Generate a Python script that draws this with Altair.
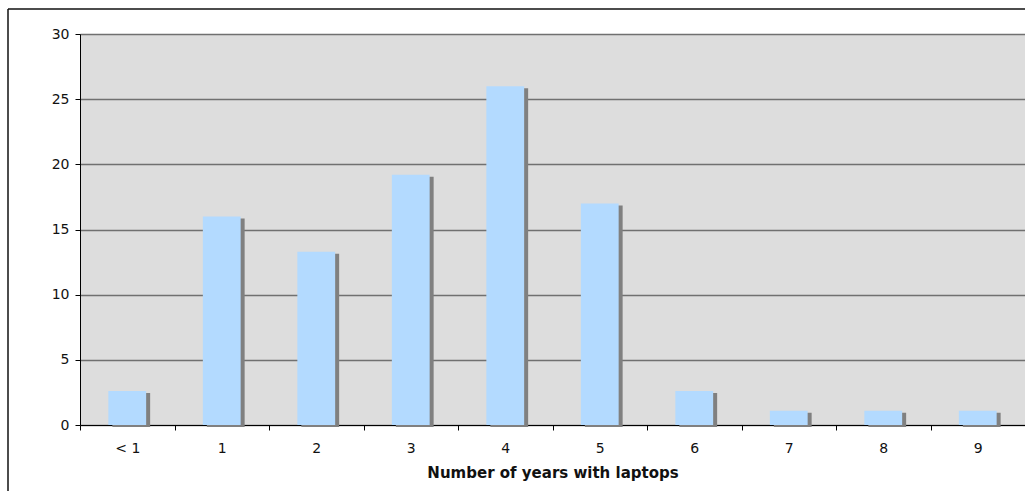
import altair as alt
import pandas as pd

# Share of respondents by number of years they have used laptops
categories = ["< 1", "1", "2", "3", "4", "5", "6", "7", "8", "9"]
values = [2.6, 16, 13.3, 19.2, 26, 17, 2.6, 1.1, 1.1, 1.1]
y_ticks = [0, 5, 10, 15, 20, 25, 30]

df = pd.DataFrame({"years": categories, "pct": values})
FONT = "DejaVu Sans"

x_enc = alt.X(
    "years:N",
    sort=categories,
    scale=alt.Scale(paddingInner=0, paddingOuter=0),
    axis=alt.Axis(
        title="Number of years with laptops",
        labelAngle=0,
        tickBand="extent",
        grid=False,
        domainColor="#000000",
        tickColor="#000000",
        tickSize=5,
        labelPadding=11,
        titlePadding=10,
    ),
)
y_enc = alt.Y(
    "pct:Q",
    scale=alt.Scale(domain=[0, 30], nice=False),
    axis=alt.Axis(
        title=None,
        values=y_ticks,
        grid=True,
        gridColor="#707070",
        gridWidth=1.5,
        domainColor="#000000",
        tickColor="#000000",
        tickSize=5,
        labelPadding=6,
    ),
)

# drop shadow behind each bar
shadow = alt.Chart(df).mark_bar(
    width={"band": 0.4}, color="#808080", xOffset=4, yOffset=2
).encode(x=x_enc, y=y_enc)

bars = alt.Chart(df).mark_bar(
    width={"band": 0.4}, color="#B3DAFF"
).encode(x=x_enc, y=y_enc)

# outer frame lines (left and top)
frame_df = pd.DataFrame({"a": [0]})
frame_left = alt.Chart(frame_df).mark_rule(color="#111111", strokeWidth=1.5).encode(
    x=alt.value(-72), y=alt.value(-25), y2=alt.value(480)
)
frame_top = alt.Chart(frame_df).mark_rule(color="#111111", strokeWidth=1.5).encode(
    x=alt.value(-72), x2=alt.value(960), y=alt.value(-25)
)

chart = (
    alt.layer(shadow, bars, frame_left, frame_top)
    .properties(
        width=945,
        height=391,
        autosize=alt.AutoSizeParams(type="none"),
        padding={"left": 80, "top": 34, "right": 0, "bottom": 66},
        background="#FFFFFF",
    )
    .configure_view(fill="#DDDDDD", stroke=None)
    .configure_axis(
        labelFont=FONT,
        labelFontSize=14,
        labelColor="#111111",
        titleFont=FONT,
        titleFontSize=15,
        titleFontWeight="bold",
        titleColor="#111111",
    )
)

chart.save("out.html", embed_options={"renderer": "svg", "actions": False})
